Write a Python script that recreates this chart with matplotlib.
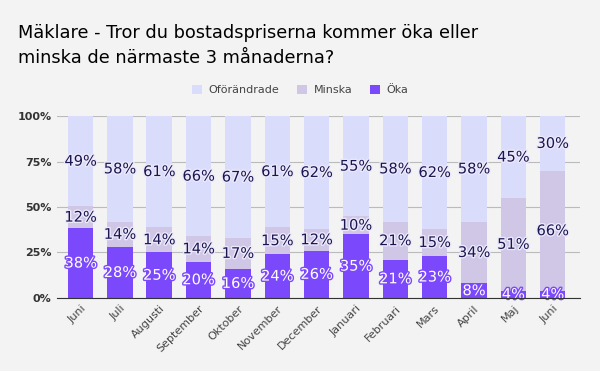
import matplotlib.pyplot as plt
import matplotlib.patheffects as pe
import numpy as np

months = ["Juni", "Juli", "Augusti", "September", "Oktober", "November", "December",
          "Januari", "Februari", "Mars", "April", "Maj", "Juni"]
oka = [38, 28, 25, 20, 16, 24, 26, 35, 21, 23, 8, 4, 4]
minska = [12, 14, 14, 14, 17, 15, 12, 10, 21, 15, 34, 51, 66]
oforandrade = [49, 58, 61, 66, 67, 61, 62, 55, 58, 62, 58, 45, 30]

series = [("Öka", oka, "#7c48fc"), ("Minska", minska, "#d0c6e6"),
          ("Oförändrade", oforandrade, "#d9dcfa")]


def main():
    bg = "#f3f3f3"
    fig = plt.figure(figsize=(6, 3.71), dpi=100, facecolor=bg)
    ax = fig.add_axes([0.095, 0.197, 0.872, 0.49])
    ax.set_facecolor(bg)

    x = np.arange(len(months))
    total = np.array(oka) + np.array(minska) + np.array(oforandrade)
    bottom = np.zeros(len(months))
    handles = {}
    for name, vals, color in series:
        share = np.array(vals) / total * 100
        bars = ax.bar(x, share, 0.65, bottom=bottom, color=color, zorder=2)
        handles[name] = bars
        for xi, b, h, v in zip(x, bottom, share, vals):
            if name == "Öka":
                fc, ec = "white", "#7c48fc"
            else:
                fc, ec = "#1a1650", "#ece9fb"
            ax.text(xi, b + h / 2, f"{v}%", ha="center", va="center", fontsize=10.5,
                    color=fc, zorder=3,
                    path_effects=[pe.withStroke(linewidth=2, foreground=ec)])
        bottom = bottom + share

    ax.set_xlim(-0.6, len(months) - 0.3)
    ax.set_ylim(0, 100)
    ax.set_yticks([0, 25, 50, 75, 100])
    ax.set_yticklabels(["0%", "25%", "50%", "75%", "100%"], fontsize=8,
                       fontweight="bold", color="#333333")
    ax.set_xticks(x)
    ax.set_xticklabels(months, rotation=45, ha="right", rotation_mode="anchor",
                       fontsize=8, color="#444444")
    ax.grid(axis="y", color="#bbbbbb", linewidth=0.8, zorder=0)
    ax.tick_params(length=0, pad=4)
    for s in ["top", "right", "left"]:
        ax.spines[s].set_visible(False)
    ax.spines["bottom"].set_color("#333333")
    ax.spines["bottom"].set_zorder(4)

    fig.text(0.03, 0.935, "Mäklare - Tror du bostadspriserna kommer öka eller\n"
             "minska de närmaste 3 månaderna?", fontsize=12.8, va="top",
             linespacing=1.5, color="black")

    order = ["Oförändrade", "Minska", "Öka"]
    fig.legend([handles[n] for n in order], order, loc="center", ncol=3,
               bbox_to_anchor=(0.5, 0.757), frameon=False, fontsize=8,
               handlelength=0.9, handleheight=0.9, columnspacing=1.6,
               handletextpad=0.6, labelcolor="#444444")

    fig.savefig("out.png", dpi=100, facecolor=bg)


if __name__ == "__main__":
    main()
